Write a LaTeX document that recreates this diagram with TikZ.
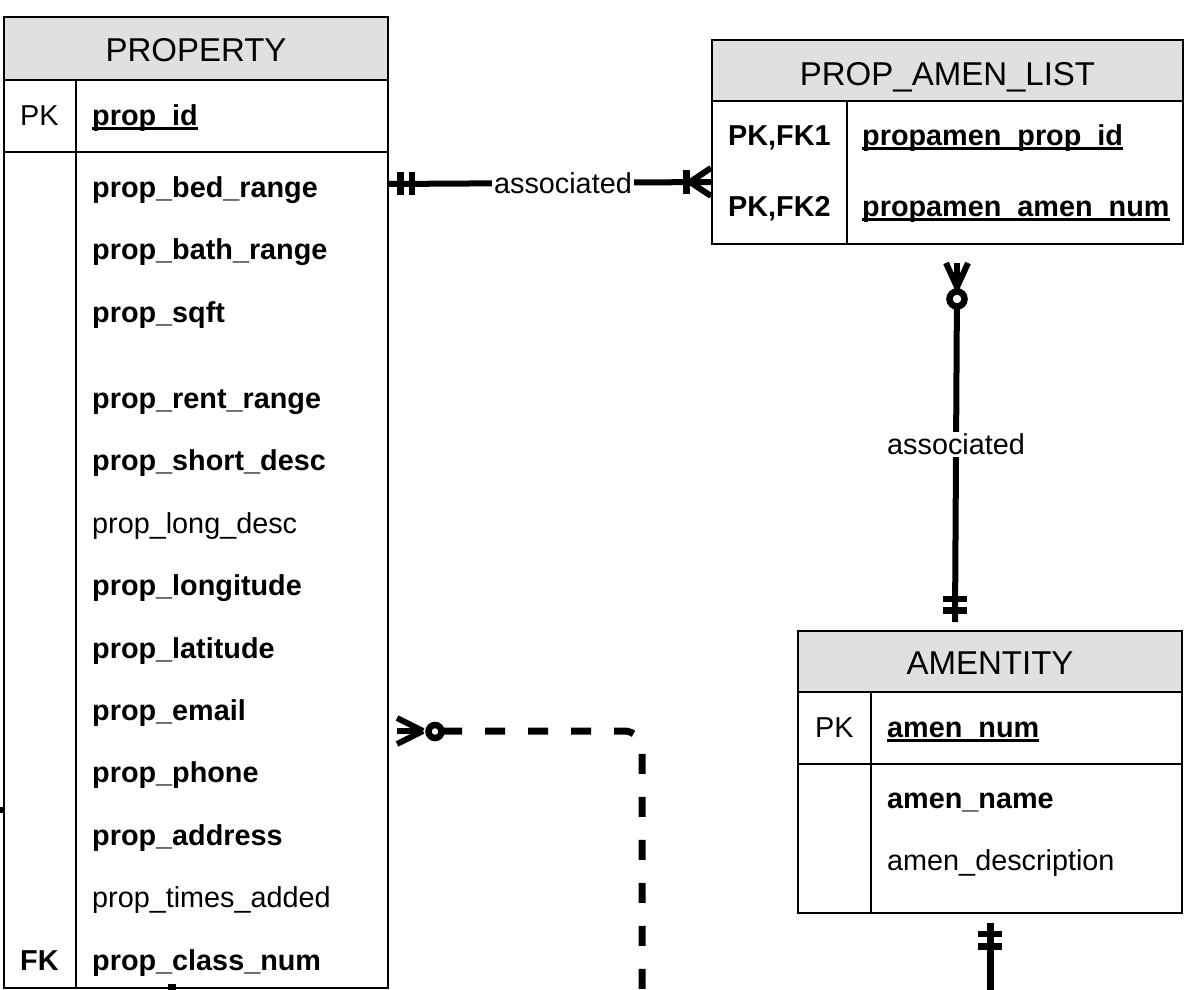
\documentclass[tikz,border=0pt]{standalone}
\usepackage{fontspec}
\setmainfont{Liberation Sans}
\definecolor{hdrgray}{RGB}{224,224,224}
\begin{document}
\begin{tikzpicture}[x=1pt,y=-1pt,
  box/.style={draw=black, line width=2pt, inner sep=0pt, outer sep=0pt},
  hdr/.style={box, fill=hdrgray},
  divider/.style={draw=black, line width=2pt},
  ttl/.style={font=\fontsize{33}{40}\selectfont, anchor=base, inner sep=0pt},
  fld/.style={font=\fontsize{28.8}{34}\selectfont, anchor=base west, inner sep=0pt},
  bfld/.style={font=\fontsize{28.8}{34}\selectfont\bfseries, anchor=base west, inner sep=0pt},
  ul/.style={line width=2.4pt},
  rel/.style={line width=6pt},
  dashrel/.style={line width=7pt, dash pattern=on 20pt off 23pt, rounded corners=18pt},
  tickbar/.style={line width=6.5pt},
  prong/.style={line width=6pt},
  ring/.style={line width=6.5pt, fill=white},
  lbl/.style={font=\fontsize{28.8}{34}\selectfont, fill=white, inner sep=2pt}
]
\useasboundingbox (0,0) rectangle (1191,990);

% ---------- PROPERTY ----------
\node[hdr, minimum width=384pt, minimum height=63pt] (propH) at (196,48.5) {};
\node[box, minimum width=384pt, minimum height=72pt] (propK) at (196,116) {};
\node[box, minimum width=384pt, minimum height=836pt] (propB) at (196,570) {};
\draw[divider] (76,80) -- (76,988);
\node[ttl] (tProp) at (196,62) {PROPERTY};
\node[fld] (pkP) at (20,125) {PK};
\node[bfld] (fPid) at (92,125) {prop\_id};
\draw[ul] ([yshift=-3.5pt]fPid.base west) -- ([yshift=-3.5pt]fPid.base east);
\node[bfld] (f1) at (92,197) {prop\_bed\_range};
\node[bfld] (f2) at (92,259) {prop\_bath\_range};
\node[bfld] (f3) at (92,322) {prop\_sqft};
\node[bfld] (f4) at (92,408) {prop\_rent\_range};
\node[bfld] (f5) at (92,470) {prop\_short\_desc};
\node[fld]  (f6) at (92,533) {prop\_long\_desc};
\node[bfld] (f7) at (92,595) {prop\_longitude};
\node[bfld] (f8) at (92,658) {prop\_latitude};
\node[bfld] (f9) at (92,720) {prop\_email};
\node[bfld] (f10) at (92,782) {prop\_phone};
\node[bfld] (f11) at (92,845) {prop\_address};
\node[fld]  (f12) at (92,907) {prop\_times\_added};
\node[bfld] (f13) at (92,970) {prop\_class\_num};
\node[bfld] (fkP) at (20,970) {FK};

% ---------- PROP_AMEN_LIST ----------
\node[hdr, minimum width=471pt, minimum height=61pt] (palH) at (947.5,70.5) {};
\node[box, minimum width=471pt, minimum height=143pt] (palB) at (947.5,172.5) {};
\draw[divider] (847,101) -- (847,244);
\node[ttl] (tPal) at (947.5,85) {PROP\_AMEN\_LIST};
\node[bfld] (k1) at (728,145) {PK,FK1};
\node[bfld] (g1) at (862,145) {propamen\_prop\_id};
\draw[ul] ([yshift=-3.5pt]g1.base west) -- ([yshift=-3.5pt]g1.base east);
\node[bfld] (k2) at (728,216) {PK,FK2};
\node[bfld] (g2) at (862,216) {propamen\_amen\_num};
\draw[ul] ([yshift=-3.5pt]g2.base west) -- ([yshift=-3.5pt]g2.base east);

% ---------- AMENTITY ----------
\node[hdr, minimum width=384pt, minimum height=61pt] (amH) at (990,661.5) {};
\node[box, minimum width=384pt, minimum height=72pt] (amK) at (990,728) {};
\node[box, minimum width=384pt, minimum height=149pt] (amB) at (990,838.5) {};
\draw[divider] (871,692) -- (871,913);
\node[ttl] (tAm) at (990,674) {AMENTITY};
\node[fld] (pkA) at (815,737) {PK};
\node[bfld] (h1) at (887,737) {amen\_num};
\draw[ul] ([yshift=-3.5pt]h1.base west) -- ([yshift=-3.5pt]h1.base east);
\node[bfld] (h2) at (887,808) {amen\_name};
\node[fld]  (h3) at (887,870) {amen\_description};

% ---------- connector 1: PROPERTY -- PROP_AMEN_LIST ----------
\coordinate (c1a) at (388,184);
\coordinate (c1b) at (712,182);
\draw[rel] (c1a) -- (c1b) node[lbl, pos=0.54] (lab1) {associated};
\draw[tickbar] (400.5,172) -- (400.5,195);
\draw[tickbar] (412,172) -- (412,195);
\draw[tickbar] (686.5,170) -- (686.5,194);
\coordinate (c1f) at (690,182);
\draw[prong] (c1f) -- (711,168);
\draw[prong] (c1f) -- (711,196);

% ---------- connector 2: PROP_AMEN_LIST -- AMENTITY ----------
\coordinate (c2f) at (957,287);
\coordinate (c2b) at (955,622);
\draw[rel] (c2f) -- (c2b) node[lbl, pos=0.47] (lab2) {associated};
\draw[prong] (c2f) -- (946,263);
\draw[prong] (c2f) -- (957,263);
\draw[prong] (c2f) -- (968,263);
\draw[ring] (957,299) circle (7.5);
\draw[tickbar] (943,599) -- (967,599);
\draw[tickbar] (943,610.5) -- (967,610.5);

% ---------- connector 3: dashed to PROPERTY ----------
\coordinate (c3f) at (423,731);
\coordinate (c3s) at (442,731);
\coordinate (c3k) at (642,731);
\coordinate (c3e) at (642,992);
\draw[dashrel] (c3s) -- (c3k) -- (c3e);
\draw[prong] (c3f) -- (397,718);
\draw[prong] (c3f) -- (397,731);
\draw[prong] (c3f) -- (397,744);
\draw[ring] (435,731.5) circle (6.5);

% ---------- connector 4: AMENTITY downward ----------
\coordinate (c4a) at (990,923);
\coordinate (c4b) at (990,992);
\draw[line width=7pt] (c4a) -- (c4b);
\draw[tickbar] (978,934) -- (1002,934);
\draw[tickbar] (978,946.5) -- (1002,946.5);

% ---------- stubs of connectors leaving the frame ----------
\coordinate (s1a) at (-2,810);
\coordinate (s1b) at (5,810);
\draw[line width=6pt] (s1a) -- (s1b);
\coordinate (s2a) at (172,984);
\coordinate (s2b) at (172,992);
\draw[line width=8pt] (s2a) -- (s2b);
\end{tikzpicture}
\end{document}
